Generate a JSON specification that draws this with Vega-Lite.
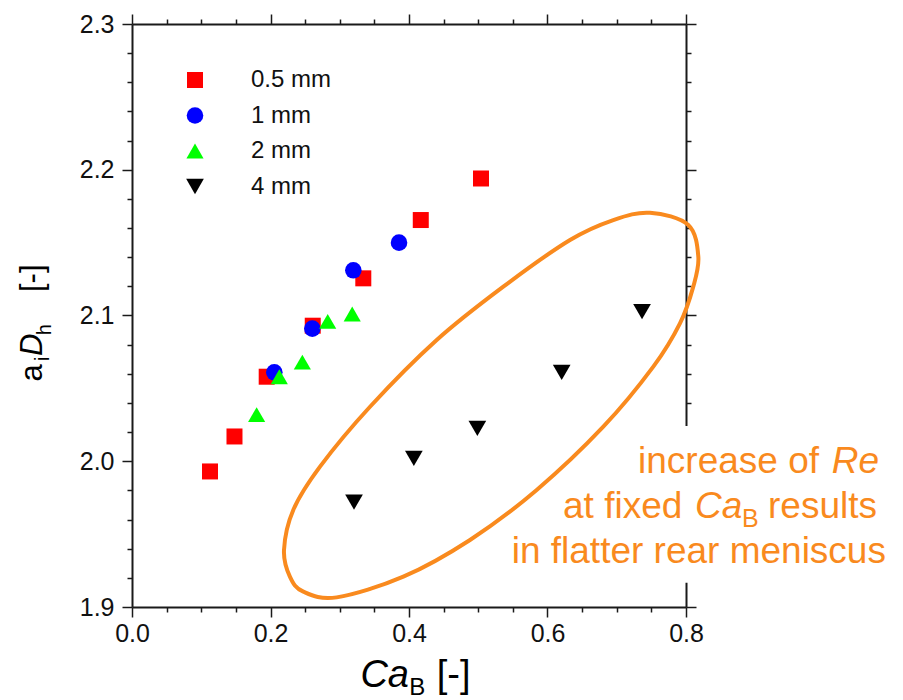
{
  "$schema": "https://vega.github.io/schema/vega-lite/v6.json",
  "width": 554,
  "height": 583,
  "autosize": {"type": "none"},
  "padding": {"left": 132, "top": 24, "right": 217, "bottom": 93},
  "background": "white",
  "config": {
    "view": {"stroke": null},
    "font": "Liberation Sans",
    "axis": {
      "domainColor": "#1a1a1a",
      "tickColor": "#1a1a1a",
      "domainWidth": 2,
      "tickWidth": 1.5,
      "labelFont": "Liberation Sans",
      "labelFontSize": 25,
      "labelColor": "#111111",
      "labelFlush": false,
      "grid": false,
      "title": null
    }
  },
  "datasets": {
    "points": [
      {"d": "0.5 mm", "ca": 0.1126, "aD": 1.993},
      {"d": "0.5 mm", "ca": 0.148, "aD": 2.017},
      {"d": "0.5 mm", "ca": 0.1945, "aD": 2.058},
      {"d": "0.5 mm", "ca": 0.261, "aD": 2.093},
      {"d": "0.5 mm", "ca": 0.334, "aD": 2.1255},
      {"d": "0.5 mm", "ca": 0.417, "aD": 2.1655},
      {"d": "0.5 mm", "ca": 0.504, "aD": 2.194},
      {"d": "1 mm", "ca": 0.2055, "aD": 2.061},
      {"d": "1 mm", "ca": 0.2604, "aD": 2.091},
      {"d": "1 mm", "ca": 0.3196, "aD": 2.131},
      {"d": "1 mm", "ca": 0.3856, "aD": 2.15},
      {"d": "2 mm", "ca": 0.18, "aD": 2.032},
      {"d": "2 mm", "ca": 0.2127, "aD": 2.058},
      {"d": "2 mm", "ca": 0.246, "aD": 2.068},
      {"d": "2 mm", "ca": 0.2826, "aD": 2.096},
      {"d": "2 mm", "ca": 0.318, "aD": 2.101},
      {"d": "4 mm", "ca": 0.3206, "aD": 1.972},
      {"d": "4 mm", "ca": 0.407, "aD": 2.002},
      {"d": "4 mm", "ca": 0.4987, "aD": 2.0226},
      {"d": "4 mm", "ca": 0.6205, "aD": 2.061},
      {"d": "4 mm", "ca": 0.7365, "aD": 2.1026}
    ],
    "outline": [
      {"i": 1, "ca": 0.748, "aD": 2.1705},
      {"i": 2, "ca": 0.8033, "aD": 2.1621},
      {"i": 3, "ca": 0.8178, "aD": 2.1403},
      {"i": 4, "ca": 0.8105, "aD": 2.1198},
      {"i": 5, "ca": 0.7913, "aD": 2.0946},
      {"i": 6, "ca": 0.7528, "aD": 2.0649},
      {"i": 7, "ca": 0.6806, "aD": 2.0237},
      {"i": 8, "ca": 0.5844, "aD": 1.9803},
      {"i": 9, "ca": 0.4881, "aD": 1.946},
      {"i": 10, "ca": 0.3918, "aD": 1.9208},
      {"i": 11, "ca": 0.2956, "aD": 1.9066},
      {"i": 12, "ca": 0.2474, "aD": 1.9105},
      {"i": 13, "ca": 0.228, "aD": 1.9208},
      {"i": 14, "ca": 0.2195, "aD": 1.9391},
      {"i": 15, "ca": 0.2329, "aD": 1.9666},
      {"i": 16, "ca": 0.2715, "aD": 1.9963},
      {"i": 17, "ca": 0.3437, "aD": 2.0374},
      {"i": 18, "ca": 0.44, "aD": 2.0832},
      {"i": 19, "ca": 0.5362, "aD": 2.1198},
      {"i": 20, "ca": 0.6325, "aD": 2.1518},
      {"i": 21, "ca": 0.695, "aD": 2.1655}
    ],
    "one": [{}]
  },
  "resolve": {"axis": {"x": "independent", "y": "independent"}},
  "layer": [
    {
      "data": {"name": "one"},
      "mark": {"type": "rect", "color": "white"},
      "encoding": {
        "x": {"datum": 0.784, "type": "quantitative", "scale": {"domain": [0, 0.8], "nice": false, "zero": false},
              "axis": {"orient": "bottom", "values": [0.05, 0.1, 0.15, 0.25, 0.3, 0.35, 0.45, 0.5, 0.55, 0.65, 0.7, 0.75], "labels": false, "domain": false, "tickSize": 5}},
        "x2": {"datum": 0.82},
        "y": {"datum": 2.0242, "type": "quantitative", "scale": {"domain": [1.9, 2.3], "nice": false, "zero": false},
              "axis": {"orient": "left", "values": [1.92, 1.94, 1.96, 1.98, 2.02, 2.04, 2.06, 2.08, 2.12, 2.14, 2.16, 2.18, 2.22, 2.24, 2.26, 2.28], "labels": false, "domain": false, "tickSize": 5}},
        "y2": {"datum": 1.9167}
      }
    },
    {
      "data": {"name": "outline"},
      "mark": {"type": "line", "interpolate": "cardinal-closed", "color": "#f98a1e", "strokeWidth": 4},
      "encoding": {
        "x": {"field": "ca", "type": "quantitative", "scale": {"domain": [0, 0.8], "nice": false, "zero": false},
              "axis": {"orient": "top", "values": [0, 0.2, 0.4, 0.6, 0.8], "labels": false, "tickSize": 10}},
        "y": {"field": "aD", "type": "quantitative", "scale": {"domain": [1.9, 2.3], "nice": false, "zero": false},
              "axis": {"orient": "right", "values": [1.9, 2.0, 2.1, 2.2, 2.3], "labels": false, "tickSize": 10}},
        "order": {"field": "i", "type": "quantitative"}
      }
    },
    {
      "data": {"name": "points"},
      "mark": {"type": "point", "filled": true, "opacity": 1, "strokeWidth": 0},
      "encoding": {
        "x": {"field": "ca", "type": "quantitative", "scale": {"domain": [0, 0.8], "nice": false, "zero": false},
              "axis": {"orient": "bottom", "values": [0, 0.2, 0.4, 0.6, 0.8], "format": ".1f", "tickSize": 10, "labelPadding": 4, "labelFontSize": 25}},
        "y": {"field": "aD", "type": "quantitative", "scale": {"domain": [1.9, 2.3], "nice": false, "zero": false},
              "axis": {"orient": "left", "values": [1.9, 2.0, 2.1, 2.2, 2.3], "format": ".1f", "tickSize": 10, "labelPadding": 8, "labelFontSize": 25}},
        "color": {"field": "d", "type": "nominal",
                  "scale": {"domain": ["0.5 mm", "1 mm", "2 mm", "4 mm"], "range": ["#ff0000", "#0000ff", "#00ff00", "#000000"]},
                  "legend": {"title": null, "orient": "none", "legendX": 51, "legendY": 44, "padding": 0,
                             "labelFont": "Liberation Sans", "labelFontSize": 24, "labelColor": "#111111",
                             "symbolSize": 140, "symbolStrokeWidth": 0, "labelOffset": 44, "rowPadding": 11.5}},
        "shape": {"field": "d", "type": "nominal",
                  "scale": {"domain": ["0.5 mm", "1 mm", "2 mm", "4 mm"], "range": ["square", "circle", "triangle-up", "triangle-down"]}},
        "size": {"field": "d", "type": "ordinal",
                 "scale": {"domain": ["0.5 mm", "1 mm", "2 mm", "4 mm"], "range": [256, 313, 450, 250]}, "legend": null}
      }
    },
    {
      "data": {"name": "one"},
      "mark": {"type": "text", "text": "increase of", "align": "left", "baseline": "alphabetic", "font": "Liberation Sans", "fontSize": 37, "color": "#f98a1e"},
      "encoding": {
        "x": {"datum": 0.7307, "type": "quantitative", "scale": {"domain": [0, 0.8], "nice": false, "zero": false},
              "axis": {"orient": "top", "values": [0.05, 0.1, 0.15, 0.25, 0.3, 0.35, 0.45, 0.5, 0.55, 0.65, 0.7, 0.75], "labels": false, "domain": false, "tickSize": 5}},
        "y": {"datum": 1.9921, "type": "quantitative", "scale": {"domain": [1.9, 2.3], "nice": false, "zero": false},
              "axis": {"orient": "right", "values": [1.92, 1.94, 1.96, 1.98, 2.02, 2.04, 2.06, 2.08, 2.12, 2.14, 2.16, 2.18, 2.22, 2.24, 2.26, 2.28], "labels": false, "domain": false, "tickSize": 5}}
      }
    },
    {
      "data": {"name": "one"},
      "mark": {"type": "text", "text": "Re", "align": "left", "baseline": "alphabetic", "font": "Liberation Sans", "fontStyle": "italic", "fontSize": 37, "color": "#f98a1e"},
      "encoding": {
        "x": {"datum": 1.0104, "type": "quantitative", "scale": {"domain": [0, 0.8], "nice": false, "zero": false}, "axis": null},
        "y": {"datum": 1.9921, "type": "quantitative", "scale": {"domain": [1.9, 2.3], "nice": false, "zero": false}, "axis": null}
      }
    },
    {
      "data": {"name": "one"},
      "mark": {"type": "text", "text": "at fixed", "align": "left", "baseline": "alphabetic", "font": "Liberation Sans", "fontSize": 37, "color": "#f98a1e"},
      "encoding": {
        "x": {"datum": 0.6224, "type": "quantitative", "scale": {"domain": [0, 0.8], "nice": false, "zero": false}, "axis": null},
        "y": {"datum": 1.9611, "type": "quantitative", "scale": {"domain": [1.9, 2.3], "nice": false, "zero": false}, "axis": null}
      }
    },
    {
      "data": {"name": "one"},
      "mark": {"type": "text", "text": "Ca", "align": "left", "baseline": "alphabetic", "font": "Liberation Sans", "fontStyle": "italic", "fontSize": 37, "color": "#f98a1e"},
      "encoding": {
        "x": {"datum": 0.813, "type": "quantitative", "scale": {"domain": [0, 0.8], "nice": false, "zero": false}, "axis": null},
        "y": {"datum": 1.9611, "type": "quantitative", "scale": {"domain": [1.9, 2.3], "nice": false, "zero": false}, "axis": null}
      }
    },
    {
      "data": {"name": "one"},
      "mark": {"type": "text", "text": "B", "align": "left", "baseline": "alphabetic", "font": "Liberation Sans", "fontSize": 25, "color": "#f98a1e"},
      "encoding": {
        "x": {"datum": 0.8809, "type": "quantitative", "scale": {"domain": [0, 0.8], "nice": false, "zero": false}, "axis": null},
        "y": {"datum": 1.9551, "type": "quantitative", "scale": {"domain": [1.9, 2.3], "nice": false, "zero": false}, "axis": null}
      }
    },
    {
      "data": {"name": "one"},
      "mark": {"type": "text", "text": "results", "align": "left", "baseline": "alphabetic", "font": "Liberation Sans", "fontSize": 37, "color": "#f98a1e"},
      "encoding": {
        "x": {"datum": 0.9184, "type": "quantitative", "scale": {"domain": [0, 0.8], "nice": false, "zero": false}, "axis": null},
        "y": {"datum": 1.9611, "type": "quantitative", "scale": {"domain": [1.9, 2.3], "nice": false, "zero": false}, "axis": null}
      }
    },
    {
      "data": {"name": "one"},
      "mark": {"type": "text", "text": "in flatter rear meniscus", "align": "left", "baseline": "alphabetic", "font": "Liberation Sans", "fontSize": 37, "color": "#f98a1e"},
      "encoding": {
        "x": {"datum": 0.5483, "type": "quantitative", "scale": {"domain": [0, 0.8], "nice": false, "zero": false}, "axis": null},
        "y": {"datum": 1.9302, "type": "quantitative", "scale": {"domain": [1.9, 2.3], "nice": false, "zero": false}, "axis": null}
      }
    },
    {
      "data": {"name": "one"},
      "mark": {"type": "text", "text": "Ca", "align": "left", "baseline": "alphabetic", "font": "Liberation Sans", "fontStyle": "italic", "fontSize": 38, "color": "#000000"},
      "encoding": {
        "x": {"datum": 0.3298, "type": "quantitative", "scale": {"domain": [0, 0.8], "nice": false, "zero": false}, "axis": null},
        "y": {"datum": 1.845, "type": "quantitative", "scale": {"domain": [1.9, 2.3], "nice": false, "zero": false}, "axis": null}
      }
    },
    {
      "data": {"name": "one"},
      "mark": {"type": "text", "text": "B", "align": "left", "baseline": "alphabetic", "font": "Liberation Sans", "fontSize": 24, "color": "#000000"},
      "encoding": {
        "x": {"datum": 0.4002, "type": "quantitative", "scale": {"domain": [0, 0.8], "nice": false, "zero": false}, "axis": null},
        "y": {"datum": 1.8395, "type": "quantitative", "scale": {"domain": [1.9, 2.3], "nice": false, "zero": false}, "axis": null}
      }
    },
    {
      "data": {"name": "one"},
      "mark": {"type": "text", "text": "[-]", "align": "left", "baseline": "alphabetic", "font": "Liberation Sans", "fontSize": 38, "color": "#000000"},
      "encoding": {
        "x": {"datum": 0.44, "type": "quantitative", "scale": {"domain": [0, 0.8], "nice": false, "zero": false}, "axis": null},
        "y": {"datum": 1.845, "type": "quantitative", "scale": {"domain": [1.9, 2.3], "nice": false, "zero": false}, "axis": null}
      }
    },
    {
      "data": {"name": "one"},
      "mark": {"type": "text", "text": "a", "angle": 270, "align": "left", "baseline": "alphabetic", "font": "Liberation Sans", "fontSize": 31, "color": "#000000"},
      "encoding": {
        "x": {"datum": -0.1306, "type": "quantitative", "scale": {"domain": [0, 0.8], "nice": false, "zero": false}, "axis": null},
        "y": {"datum": 2.0548, "type": "quantitative", "scale": {"domain": [1.9, 2.3], "nice": false, "zero": false}, "axis": null}
      }
    },
    {
      "data": {"name": "one"},
      "mark": {"type": "text", "text": "i", "angle": 270, "align": "left", "baseline": "alphabetic", "font": "Liberation Sans", "fontSize": 20, "color": "#000000"},
      "encoding": {
        "x": {"datum": -0.1205, "type": "quantitative", "scale": {"domain": [0, 0.8], "nice": false, "zero": false}, "axis": null},
        "y": {"datum": 2.0688, "type": "quantitative", "scale": {"domain": [1.9, 2.3], "nice": false, "zero": false}, "axis": null}
      }
    },
    {
      "data": {"name": "one"},
      "mark": {"type": "text", "text": "D", "angle": 270, "align": "left", "baseline": "alphabetic", "font": "Liberation Sans", "fontStyle": "italic", "fontSize": 31, "color": "#000000"},
      "encoding": {
        "x": {"datum": -0.1306, "type": "quantitative", "scale": {"domain": [0, 0.8], "nice": false, "zero": false}, "axis": null},
        "y": {"datum": 2.0722, "type": "quantitative", "scale": {"domain": [1.9, 2.3], "nice": false, "zero": false}, "axis": null}
      }
    },
    {
      "data": {"name": "one"},
      "mark": {"type": "text", "text": "h", "angle": 270, "align": "left", "baseline": "alphabetic", "font": "Liberation Sans", "fontSize": 20, "color": "#000000"},
      "encoding": {
        "x": {"datum": -0.117, "type": "quantitative", "scale": {"domain": [0, 0.8], "nice": false, "zero": false}, "axis": null},
        "y": {"datum": 2.0865, "type": "quantitative", "scale": {"domain": [1.9, 2.3], "nice": false, "zero": false}, "axis": null}
      }
    },
    {
      "data": {"name": "one"},
      "mark": {"type": "text", "text": "[-]", "angle": 270, "align": "left", "baseline": "alphabetic", "font": "Liberation Sans", "fontSize": 31, "color": "#000000"},
      "encoding": {
        "x": {"datum": -0.1306, "type": "quantitative", "scale": {"domain": [0, 0.8], "nice": false, "zero": false}, "axis": null},
        "y": {"datum": 2.1161, "type": "quantitative", "scale": {"domain": [1.9, 2.3], "nice": false, "zero": false}, "axis": null}
      }
    }
  ]
}
